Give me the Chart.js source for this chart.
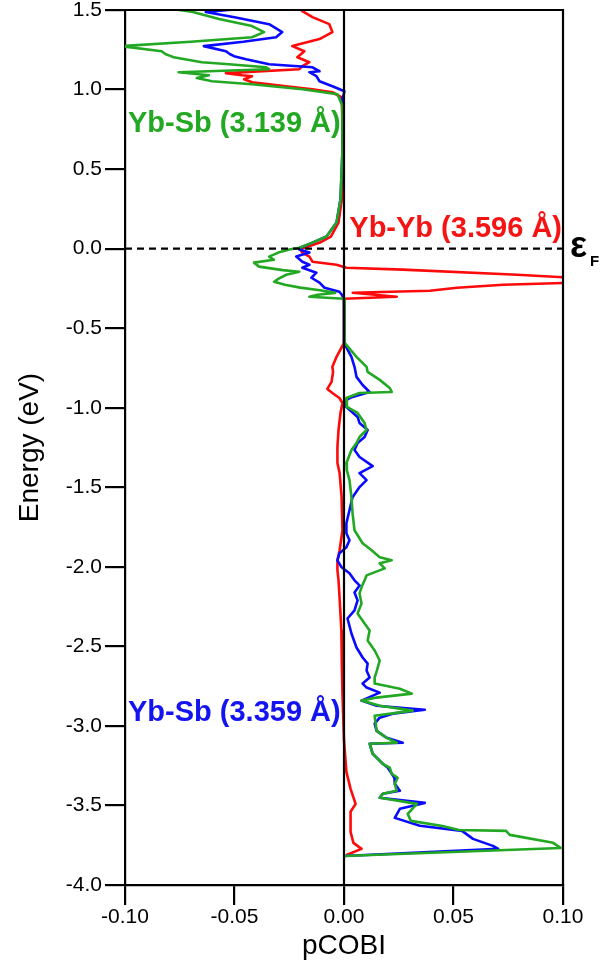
<!DOCTYPE html>
<html>
<head>
<meta charset="utf-8">
<title>pCOBI</title>
<script src="https://cdn.jsdelivr.net/npm/chart.js@4.4.1/dist/chart.umd.min.js"></script>
<style>
  body { margin: 0; background: #fff; }
  #wrap { position: relative; width: 601px; height: 972px; }
</style>
</head>
<body>
<div id="wrap"><canvas id="cobiChart"></canvas></div>
<script>
// Yb-Sb (3.139 A) - green
var ybSb3139Energy = [1.51, 1.488, 1.443, 1.399, 1.361, 1.329, 1.300, 1.273, 1.241, 1.222, 1.210, 1.203, 1.172, 1.159, 1.140, 1.128, 1.109, 1.090, 1.072, 1.052, 1.033, 1.002, 0.970, 0.900, 0.620, 0.310, 0.164, 0.076, 0.038, 0.006,
  -0.006, -0.025, -0.050, -0.070, -0.088, -0.113, -0.135, -0.145, -0.164, -0.190, -0.208, -0.227, -0.245, -0.262, -0.278, -0.290, -0.302, -0.315,
  -0.592, -0.680, -0.743, -0.775, -0.825, -0.876, -0.901, -0.907, -0.939, -0.995, -1.033, -1.096, -1.140, -1.184, -1.222, -1.266, -1.348, -1.392, -1.455, -1.562, -1.663, -1.770, -1.852, -1.896, -1.940, -1.959, -1.978,
  -2.010, -2.054, -2.085, -2.129, -2.167, -2.230, -2.293, -2.356, -2.400, -2.463, -2.526, -2.589, -2.652, -2.696, -2.734, -2.766, -2.797, -2.822, -2.841, -2.873, -2.904, -2.936,
  -3.031, -3.075, -3.106, -3.112, -3.175, -3.238, -3.263, -3.301, -3.326, -3.364, -3.408, -3.427, -3.452, -3.490, -3.553, -3.597, -3.629, -3.654, -3.660, -3.685, -3.735, -3.767, -3.818];
var ybSb3139Pcobi = [-0.0800, -0.0690, -0.0571, -0.0420, -0.0365, -0.0420, -0.0700, -0.1020, -0.0833, -0.0814, -0.0790, -0.0778, -0.0649, -0.0525, -0.0356, -0.0342, -0.0755, -0.0617, -0.0672, -0.0603, -0.0420, -0.0190, -0.0030, -0.0008, -0.0007, -0.0016, -0.0034, -0.0080, -0.0144, -0.0204,
  -0.0250, -0.0300, -0.0342, -0.0320, -0.0411, -0.0388, -0.0280, -0.0204, -0.0264, -0.0300, -0.0319, -0.0270, -0.0200, -0.0110, -0.0040, -0.0120, -0.0158, 0.0000,
  0.0003, 0.0057, 0.0103, 0.0108, 0.0163, 0.0209, 0.0218, 0.0071, 0.0011, 0.0013, 0.0062, 0.0094, 0.0103, 0.0071, 0.0057, 0.0034, 0.0011, 0.0013, 0.0025, 0.0034, 0.0039, 0.0048, 0.0085, 0.0126, 0.0163, 0.0218, 0.0163,
  0.0186, 0.0103, 0.0094, 0.0080, 0.0071, 0.0080, 0.0062, 0.0094, 0.0117, 0.0108, 0.0140, 0.0163, 0.0150, 0.0140, 0.0140, 0.0255, 0.0310, 0.0149, 0.0080, 0.0163, 0.0314, 0.0140,
  0.0149, 0.0195, 0.0241, 0.0117, 0.0131, 0.0177, 0.0209, 0.0218, 0.0245, 0.0232, 0.0240, 0.0177, 0.0163, 0.0333, 0.0291, 0.0305, 0.0450, 0.0525, 0.0740, 0.0757, 0.0955, 0.0989, 0.0000];

// Yb-Sb (3.359 A) - blue
var ybSb3359Energy = [1.51, 1.487, 1.455, 1.411, 1.361, 1.329, 1.300, 1.273, 1.241, 1.222, 1.210, 1.191, 1.159, 1.140, 1.115, 1.109, 1.084, 1.052, 1.021, 0.989, 0.950, 0.620, 0.310, 0.164, 0.076, 0.038, 0.006,
  -0.006, -0.025, -0.050, -0.082, -0.101, -0.120, -0.151, -0.183, -0.214, -0.246, -0.271, -0.290, -0.315,
  -0.592, -0.680, -0.743, -0.806, -0.857, -0.901, -0.932, -0.951, -0.995, -1.058, -1.096, -1.140, -1.184, -1.222, -1.266, -1.310, -1.367, -1.411, -1.455, -1.499, -1.562, -1.644, -1.726, -1.789, -1.833, -1.877, -1.915, -1.959,
  -2.003, -2.041, -2.085, -2.117, -2.161, -2.211, -2.274, -2.325, -2.419, -2.507, -2.570, -2.608, -2.652, -2.696, -2.734, -2.759, -2.791, -2.841, -2.873, -2.898, -2.923, -2.948, -2.986,
  -3.031, -3.075, -3.106, -3.112, -3.175, -3.238, -3.263, -3.301, -3.326, -3.364, -3.408, -3.427, -3.452, -3.484, -3.521, -3.578, -3.628, -3.660, -3.710, -3.754, -3.773, -3.818];
var ybSb3359Pcobi = [-0.0450, -0.0631, -0.0500, -0.0342, -0.0282, -0.0310, -0.0460, -0.0640, -0.0539, -0.0520, -0.0502, -0.0447, -0.0342, -0.0144, -0.0112, -0.0158, -0.0126, -0.0112, -0.0053, 0.0002, -0.0005, -0.0007, -0.0016, -0.0034, -0.0080, -0.0144, -0.0200,
  -0.0204, -0.0158, -0.0218, -0.0190, -0.0158, -0.0190, -0.0126, -0.0149, -0.0112, -0.0089, -0.0021, -0.0010, 0.0000,
  0.0000, 0.0034, 0.0048, 0.0057, 0.0085, 0.0117, 0.0039, 0.0011, 0.0011, 0.0062, 0.0071, 0.0108, 0.0094, 0.0062, 0.0048, 0.0071, 0.0131, 0.0071, 0.0103, 0.0071, 0.0039, 0.0025, 0.0011, 0.0011, 0.0025, 0.0011, -0.0021, -0.0030,
  -0.0011, 0.0025, 0.0048, 0.0071, 0.0048, 0.0062, 0.0048, 0.0016, 0.0034, 0.0057, 0.0085, 0.0108, 0.0103, 0.0117, 0.0085, 0.0103, 0.0163, 0.0080, 0.0149, 0.0369, 0.0222, 0.0163, 0.0140,
  0.0149, 0.0195, 0.0268, 0.0117, 0.0131, 0.0177, 0.0200, 0.0218, 0.0230, 0.0232, 0.0255, 0.0177, 0.0163, 0.0369, 0.0255, 0.0232, 0.0346, 0.0539, 0.0589, 0.0680, 0.0704, 0.0000];

// Yb-Yb (3.596 A) - red
var ybYb3596Energy = [1.51, 1.493, 1.455, 1.411, 1.361, 1.317, 1.273, 1.241, 1.203, 1.172, 1.147, 1.128, 1.103, 1.090, 1.084, 1.065, 1.046, 1.021, 1.002, 0.983, 0.950, 0.620, 0.310, 0.164, 0.076, 0.038, 0.006,
  -0.006, -0.025, -0.050, -0.082, -0.101, -0.120, -0.132, -0.164, -0.183, -0.214, -0.227, -0.246, -0.265, -0.277, -0.302, -0.315,
  -0.592, -0.680, -0.743, -0.775, -0.838, -0.882, -0.907, -0.939, -0.970, -1.033, -1.140, -1.247, -1.348, -1.411, -1.562, -1.770, -1.896, -1.959,
  -2.022, -2.085, -2.200, -2.400, -2.600, -2.800, -3.093, -3.289, -3.396, -3.490, -3.540, -3.666, -3.735, -3.773, -3.811];
var ybYb3596Pcobi = [-0.0200, -0.0190, -0.0144, -0.0067, -0.0053, -0.0112, -0.0236, -0.0181, -0.0213, -0.0158, -0.0190, -0.0204, -0.0539, -0.0466, -0.0420, -0.0456, -0.0420, -0.0264, -0.0144, -0.0053, -0.0010, -0.0005, -0.0010, -0.0025, -0.0060, -0.0110, -0.0180,
  -0.0200, -0.0190, -0.0158, -0.0144, -0.0034, 0.0011, 0.0268, 0.0791, 0.1040, 0.1040, 0.0727, 0.0516, 0.0392, 0.0040, 0.0241, 0.0000,
  0.0000, -0.0034, -0.0053, -0.0050, -0.0057, -0.0076, -0.0053, -0.0021, -0.0007, -0.0016, -0.0025, -0.0030, -0.0030, -0.0020, -0.0011, -0.0007, -0.0020, -0.0030,
  -0.0030, -0.0025, -0.0020, -0.0012, -0.0010, -0.0007, 0.0000, 0.0011, 0.0030, 0.0053, 0.0030, 0.0030, 0.0043, 0.0080, 0.0011];

var energyTicks = [-4.0, -3.5, -3.0, -2.5, -2.0, -1.5, -1.0, -0.5, 0.0, 0.5, 1.0, 1.5];
var pcobiTicks = [-0.10, -0.05, 0.00, 0.05, 0.10];

function toPoints(energies, values) {
  return energies.map(function (e, i) { return { x: values[i], y: e }; });
}

// frame, zero line, Fermi level and labels
var decorPlugin = {
  id: 'decor',
  afterDatasetsDraw: function (chart) {
    var ctx = chart.ctx;
    var a = chart.chartArea;
    var x0 = chart.scales.x.getPixelForValue(0);
    var yF = chart.scales.y.getPixelForValue(0);
    ctx.save();
    ctx.strokeStyle = '#000';
    ctx.lineWidth = 2.2;
    ctx.beginPath();
    ctx.moveTo(x0, a.top);
    ctx.lineTo(x0, a.bottom);
    ctx.stroke();
    ctx.beginPath();
    ctx.moveTo(a.left - 1, a.top);
    ctx.lineTo(a.right, a.top);
    ctx.lineTo(a.right, a.bottom + 1);
    ctx.stroke();
    ctx.setLineDash([7, 5]);
    ctx.beginPath();
    ctx.moveTo(a.left, yF);
    ctx.lineTo(a.right, yF);
    ctx.stroke();
    ctx.setLineDash([]);

    var ys = chart.scales.y;
    ctx.font = 'bold 29px "Liberation Sans", Arial, sans-serif';
    ctx.textBaseline = 'alphabetic';
    ctx.textAlign = 'left';
    ctx.fillStyle = '#22a822';
    ctx.fillText('Yb-Sb (3.139 Å)', a.left + 3, ys.getPixelForValue(0.735));
    ctx.fillStyle = '#1414f0';
    ctx.fillText('Yb-Sb (3.359 Å)', a.left + 3, ys.getPixelForValue(-2.97));
    ctx.textAlign = 'right';
    ctx.fillStyle = '#f51414';
    ctx.fillText('Yb-Yb (3.596 Å)', a.right - 1, ys.getPixelForValue(0.073));

    ctx.textAlign = 'left';
    ctx.fillStyle = '#000';
    ctx.font = 'bold 36px "Liberation Sans", Arial, sans-serif';
    ctx.fillText('ε', a.right + 7, yF + 8);
    ctx.font = 'bold 15px "Liberation Sans", Arial, sans-serif';
    ctx.fillText('F', a.right + 27, yF + 17);
    ctx.restore();
  }
};

document.addEventListener('DOMContentLoaded', function () {
  Chart.defaults.font.family = '"Liberation Sans", Arial, sans-serif';
  Chart.defaults.color = '#000';
  var ctx = document.getElementById('cobiChart').getContext('2d');
  var lineStyle = { showLine: true, pointRadius: 0, borderWidth: 2.6, borderJoinStyle: 'round', fill: false, tension: 0 };
  var data = {
    datasets: [
      Object.assign({ label: 'Yb-Sb (3.139 Å)', data: toPoints(ybSb3139Energy, ybSb3139Pcobi), borderColor: '#22a822' }, lineStyle),
      Object.assign({ label: 'Yb-Sb (3.359 Å)', data: toPoints(ybSb3359Energy, ybSb3359Pcobi), borderColor: '#0a0aff' }, lineStyle),
      Object.assign({ label: 'Yb-Yb (3.596 Å)', data: toPoints(ybYb3596Energy, ybYb3596Pcobi), borderColor: '#ff0a0a' }, lineStyle)
    ]
  };
  var cobiChart = new Chart(ctx, {
    type: 'scatter',
    data: data,
    plugins: [decorPlugin],
    options: {
      responsive: true,
      maintainAspectRatio: false,
      animation: false,
      layout: { padding: { left: 0, right: 38, top: 10, bottom: 0 } },
      plugins: { legend: { display: false }, tooltip: { enabled: false } },
      scales: {
        x: {
          type: 'linear',
          min: -0.1,
          max: 0.1,
          afterBuildTicks: function (s) { s.ticks = pcobiTicks.map(function (v) { return { value: v }; }); },
          afterFit: function (s) { s.height = 87; s.paddingLeft = 0; s.paddingRight = 0; },
          ticks: { font: { size: 21 }, color: '#000', padding: 0, maxRotation: 0, callback: function (v) { return Number(v).toFixed(2); } },
          grid: { drawOnChartArea: false, drawTicks: true, tickLength: 20, color: '#000', lineWidth: 2.2 },
          border: { display: true, color: '#000', width: 2.2 },
          title: { display: true, text: 'pCOBI', font: { size: 28 }, color: '#000', padding: { top: 0, bottom: 9 } }
        },
        y: {
          type: 'linear',
          min: -4.0,
          max: 1.5,
          afterBuildTicks: function (s) { s.ticks = energyTicks.map(function (v) { return { value: v }; }); },
          afterFit: function (s) { s.width = 125; s.paddingTop = 0; s.paddingBottom = 0; },
          ticks: { font: { size: 21 }, color: '#000', padding: 3, callback: function (v) { return Number(v).toFixed(1); } },
          grid: { drawOnChartArea: false, drawTicks: true, tickLength: 20, color: '#000', lineWidth: 2.2 },
          border: { display: true, color: '#000', width: 2.2 },
          title: { display: true, text: 'Energy (eV)', font: { size: 28 }, color: '#000', padding: { top: 13, bottom: 0 } }
        }
      }
    }
  });
});
</script>
</body>
</html>
